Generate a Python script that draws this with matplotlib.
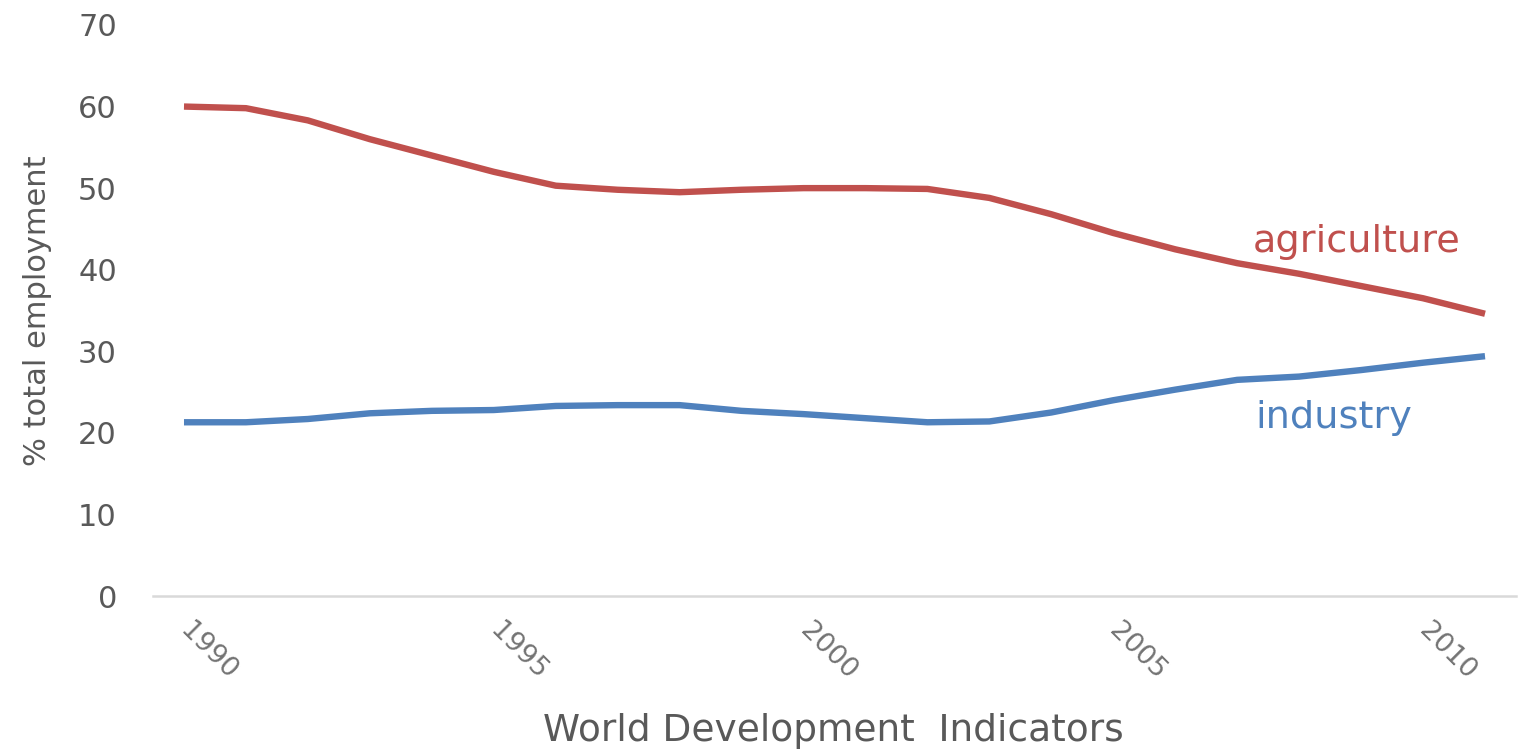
import matplotlib
matplotlib.use("Agg")
import matplotlib.pyplot as plt
import numpy as np

years = list(range(1990, 2012))
agriculture = [60.0, 59.8, 58.3, 56.0, 54.0, 52.0, 50.3, 49.8, 49.5, 49.8, 50.0,
               50.0, 49.9, 48.8, 46.8, 44.5, 42.5, 40.8, 39.5, 38.0, 36.5, 34.6]
industry = [21.3, 21.3, 21.7, 22.4, 22.7, 22.8, 23.3, 23.4, 23.4, 22.7, 22.3,
            21.8, 21.3, 21.4, 22.5, 24.0, 25.3, 26.5, 26.9, 27.7, 28.6, 29.4]
tick_years = [1990, 1995, 2000, 2005, 2010]
y_ticks = [0, 10, 20, 30, 40, 50, 60, 70]

RED = "#C0504D"
BLUE = "#4F81BD"

fig = plt.figure(figsize=(15.21, 7.52), dpi=100)
ax = fig.add_axes([0.1006, 0.2074, 0.8961, 0.7594])

x = np.arange(len(years))
ax.plot(x, agriculture, color=RED, lw=4.6, solid_capstyle="butt", solid_joinstyle="round")
ax.plot(x, industry, color=BLUE, lw=4.6, solid_capstyle="butt", solid_joinstyle="round")

ax.set_xlim(-0.5, len(years) - 0.5)
ax.set_ylim(0, 70)
ax.set_yticks(y_ticks)
ax.set_yticklabels([str(v) for v in y_ticks], fontsize=22, color="#595959")
ax.tick_params(axis="y", length=0, pad=26)

ax.set_xticks([years.index(t) for t in tick_years])
ax.set_xticklabels([str(t) for t in tick_years], fontsize=19.5, color="#737373",
                   rotation=-45, ha="left", va="center", rotation_mode="anchor")
ax.tick_params(axis="x", length=0, pad=22)

for s in ["top", "right", "left"]:
    ax.spines[s].set_visible(False)
ax.spines["bottom"].set_color("#D9D9D9")
ax.spines["bottom"].set_linewidth(1.8)

ax.set_ylabel("% total employment", fontsize=22, color="#595959", labelpad=19)
fig.text(833 / 1521, 1 - 731 / 752, "World Development  Indicators", fontsize=27,
         color="#595959", ha="center", va="center")

ax.text(17.25, 43.4, "agriculture", fontsize=27.5, color=RED, ha="left", va="center")
ax.text(17.3, 21.8, "industry", fontsize=27.5, color=BLUE, ha="left", va="center")

fig.savefig("out.png", dpi=100)
